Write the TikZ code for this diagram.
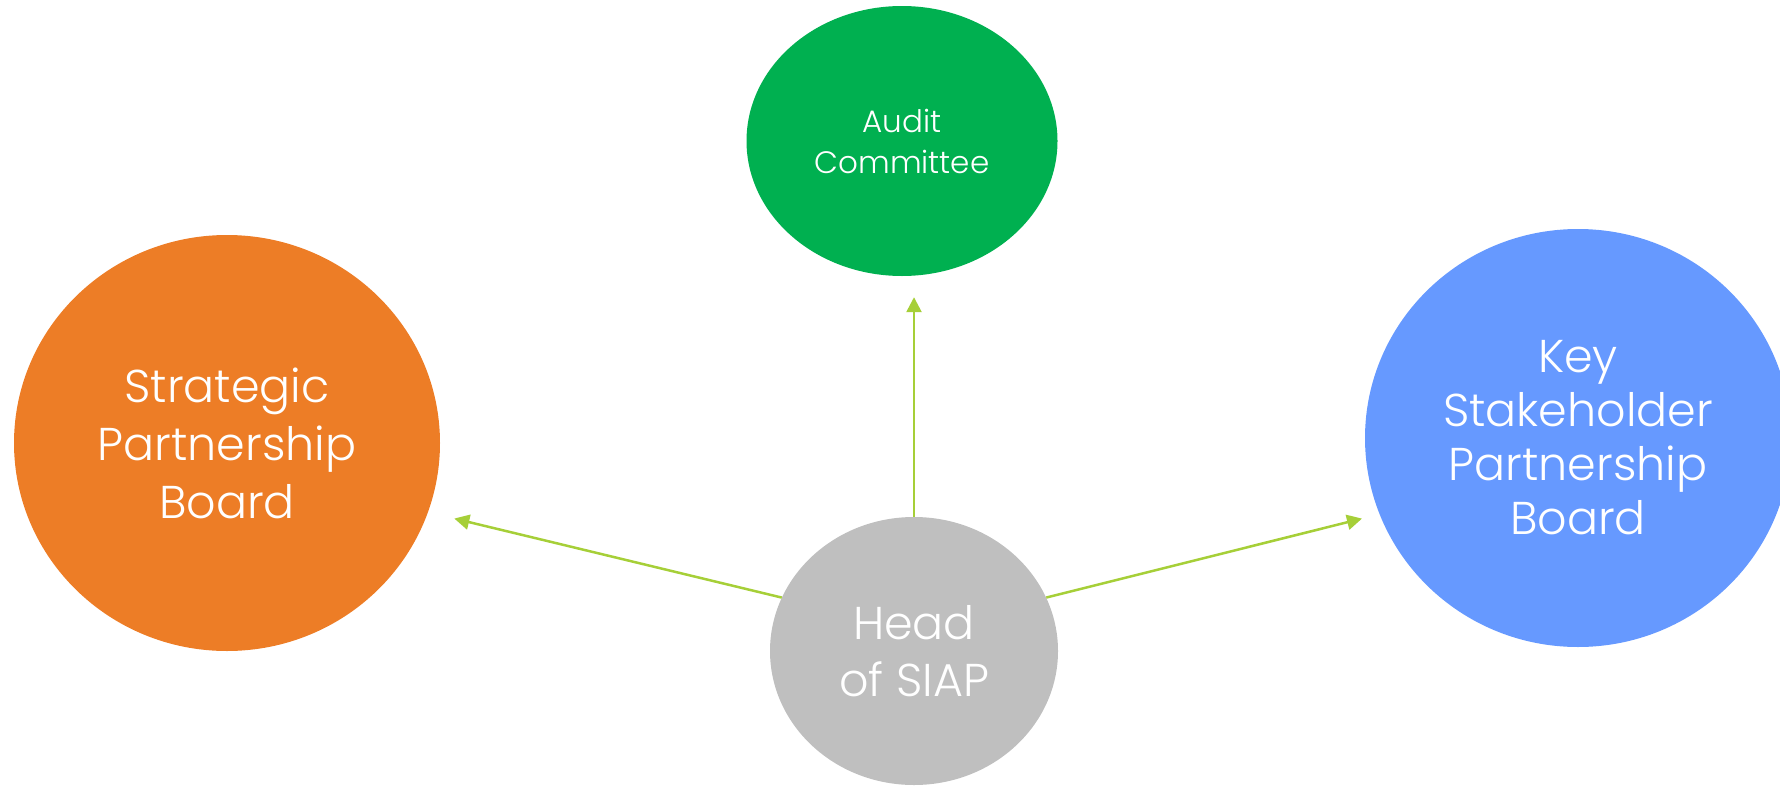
\documentclass[tikz,border=0pt]{standalone}
\usepackage{fontspec}
\setmainfont{Poppins}[UprightFont=* Light]
\usetikzlibrary{shapes.geometric,arrows.meta}
\definecolor{stratorange}{RGB}{237,125,38}
\definecolor{auditgreen}{RGB}{0,176,80}
\definecolor{keyblue}{RGB}{102,153,255}
\definecolor{headgray}{RGB}{191,191,191}
\definecolor{linkgreen}{RGB}{166,207,56}

\begin{document}
\begin{tikzpicture}[x=1pt,y=-1pt]
        \tikzstyle{board}=[ellipse,fill,inner sep=0pt,text=white,align=center]
        \tikzstyle{link}=[draw=linkgreen,line width=2.5pt,-{Triangle[length=15pt,width=15pt]}]
          \useasboundingbox (0,0) rectangle (1780,787);
          \node (strat) at (227,443) [board,fill=stratorange,minimum width=426pt,minimum height=416pt,
            font=\fontsize{46}{58}\selectfont] {Strategic\\Partnership\\Board};
          \node (audit) at (902,141) [board,fill=auditgreen,minimum width=311pt,minimum height=270pt,
            font=\fontsize{31}{41}\selectfont] {Audit\\Committee};
          \node (keyboard) at (1578,438) [board,fill=keyblue,minimum width=426pt,minimum height=418pt,
            font=\fontsize{46}{54}\selectfont] {Key\\Stakeholder\\Partnership\\Board};
          \node (head) at (914,651) [board,fill=headgray,minimum width=288pt,minimum height=268pt,
            font=\fontsize{46}{57}\selectfont] {Head\\of SIAP};
          \draw [link,shorten >=27pt] (head.158) -- (strat.341);
          \draw [link,shorten >=18pt] (head.22.6) -- (keyboard.201.4);
          \draw [link,shorten >=21pt] (head.north) -- (head.north |- audit.south);
      \end{tikzpicture}
\end{document}
